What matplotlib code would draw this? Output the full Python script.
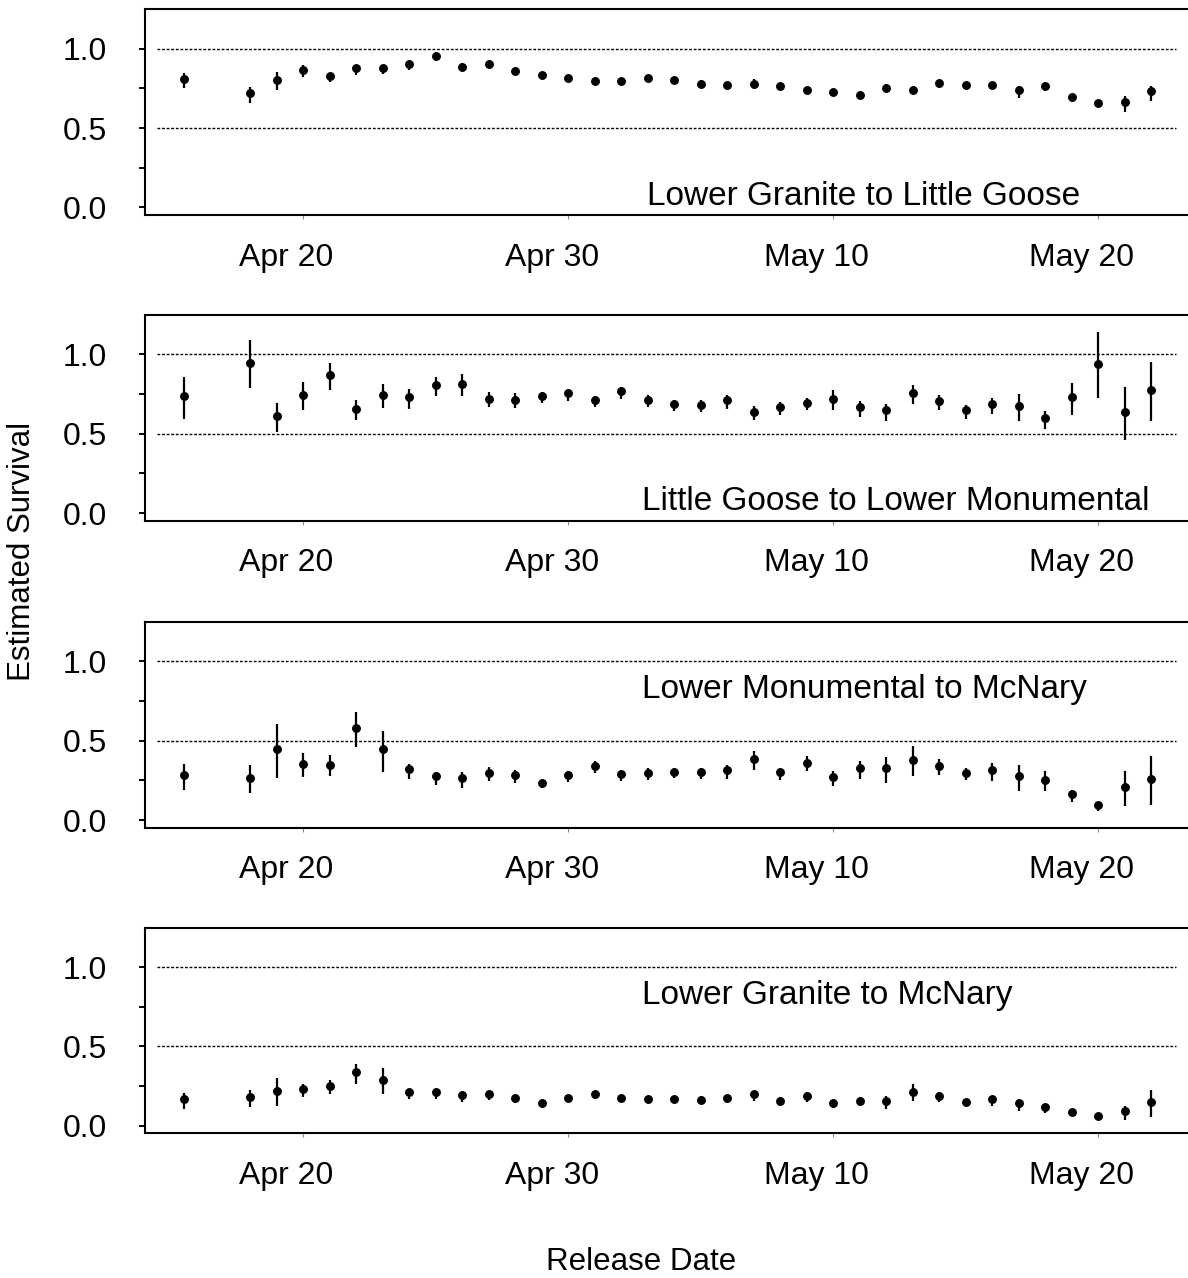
import numpy as np
import pandas as pd
import matplotlib
matplotlib.use('Agg')
import matplotlib.pyplot as plt
import matplotlib.dates as mdates
import matplotlib.transforms as mtrans

plt.rcParams['font.family'] = ['Liberation Sans', 'DejaVu Sans']

# release dates (first group is a pooled mid-day release)
release = pd.DatetimeIndex([pd.Timestamp('2008-04-15 12:00')]).append(
    pd.date_range('2008-04-18', '2008-05-22'))

reaches = ['Lower Granite to Little Goose',
           'Little Goose to Lower Monumental',
           'Lower Monumental to McNary',
           'Lower Granite to McNary']

est1 = [0.809, 0.723, 0.804, 0.869, 0.829, 0.877, 0.881, 0.902, 0.954, 0.888, 0.902, 0.859,
        0.836, 0.813, 0.798, 0.796, 0.817, 0.802, 0.781, 0.771, 0.781, 0.767, 0.740, 0.729,
        0.709, 0.754, 0.742, 0.786, 0.773, 0.771, 0.738, 0.767, 0.696, 0.659, 0.663, 0.731]
lo1 = [0.750, 0.660, 0.742, 0.823, 0.790, 0.835, 0.840, 0.865, 0.920, 0.860, 0.880, 0.840,
       0.820, 0.800, 0.780, 0.780, 0.800, 0.785, 0.765, 0.740, 0.745, 0.750, 0.725, 0.715,
       0.690, 0.735, 0.730, 0.752, 0.755, 0.755, 0.690, 0.735, 0.663, 0.630, 0.600, 0.673]
hi1 = [0.850, 0.760, 0.856, 0.898, 0.850, 0.900, 0.900, 0.920, 0.980, 0.910, 0.920, 0.880,
       0.850, 0.830, 0.815, 0.810, 0.835, 0.820, 0.800, 0.790, 0.810, 0.785, 0.755, 0.745,
       0.725, 0.775, 0.760, 0.806, 0.790, 0.790, 0.765, 0.790, 0.715, 0.680, 0.704, 0.767]

est2 = [0.736, 0.948, 0.610, 0.746, 0.868, 0.658, 0.746, 0.729, 0.809, 0.814, 0.721, 0.715,
        0.738, 0.755, 0.710, 0.767, 0.715, 0.685, 0.683, 0.710, 0.637, 0.669, 0.694, 0.721,
        0.666, 0.647, 0.757, 0.704, 0.650, 0.685, 0.677, 0.597, 0.729, 0.940, 0.637, 0.778]
lo2 = [0.595, 0.789, 0.513, 0.647, 0.776, 0.589, 0.660, 0.656, 0.738, 0.738, 0.666, 0.660,
       0.694, 0.707, 0.669, 0.720, 0.669, 0.641, 0.639, 0.656, 0.584, 0.620, 0.647, 0.652,
       0.606, 0.578, 0.685, 0.647, 0.595, 0.622, 0.578, 0.530, 0.620, 0.723, 0.462, 0.578]
hi2 = [0.858, 1.093, 0.692, 0.828, 0.946, 0.710, 0.816, 0.782, 0.858, 0.874, 0.765, 0.757,
       0.761, 0.782, 0.736, 0.795, 0.746, 0.715, 0.715, 0.746, 0.672, 0.700, 0.723, 0.778,
       0.704, 0.690, 0.805, 0.746, 0.679, 0.726, 0.750, 0.645, 0.820, 1.140, 0.795, 0.955]

est3 = [0.283, 0.268, 0.446, 0.356, 0.350, 0.579, 0.446, 0.321, 0.277, 0.266, 0.299, 0.283,
        0.234, 0.283, 0.343, 0.288, 0.299, 0.301, 0.303, 0.313, 0.382, 0.303, 0.362, 0.272,
        0.328, 0.326, 0.380, 0.343, 0.299, 0.313, 0.278, 0.255, 0.163, 0.094, 0.209, 0.257]
lo3 = [0.189, 0.172, 0.266, 0.272, 0.277, 0.461, 0.304, 0.260, 0.224, 0.203, 0.247, 0.233,
       0.203, 0.241, 0.294, 0.245, 0.250, 0.262, 0.258, 0.261, 0.313, 0.255, 0.309, 0.213,
       0.261, 0.234, 0.276, 0.282, 0.255, 0.246, 0.184, 0.182, 0.113, 0.056, 0.088, 0.092]
hi3 = [0.356, 0.346, 0.608, 0.421, 0.407, 0.679, 0.562, 0.356, 0.304, 0.305, 0.335, 0.314,
       0.252, 0.308, 0.371, 0.313, 0.329, 0.325, 0.331, 0.345, 0.434, 0.330, 0.401, 0.309,
       0.372, 0.397, 0.466, 0.387, 0.330, 0.359, 0.349, 0.309, 0.192, 0.115, 0.309, 0.403]

est4 = [0.168, 0.181, 0.216, 0.231, 0.252, 0.336, 0.290, 0.210, 0.214, 0.191, 0.197, 0.172,
        0.145, 0.172, 0.197, 0.176, 0.170, 0.168, 0.164, 0.172, 0.197, 0.158, 0.189, 0.143,
        0.158, 0.158, 0.214, 0.189, 0.149, 0.168, 0.141, 0.118, 0.088, 0.059, 0.090, 0.149]
lo4 = [0.107, 0.118, 0.122, 0.178, 0.200, 0.263, 0.200, 0.170, 0.170, 0.147, 0.160, 0.143,
       0.125, 0.150, 0.168, 0.155, 0.150, 0.150, 0.145, 0.143, 0.153, 0.126, 0.151, 0.112,
       0.122, 0.107, 0.153, 0.149, 0.130, 0.126, 0.090, 0.078, 0.059, 0.038, 0.038, 0.052]
hi4 = [0.206, 0.227, 0.298, 0.265, 0.290, 0.391, 0.365, 0.227, 0.238, 0.210, 0.216, 0.189,
       0.165, 0.190, 0.216, 0.195, 0.190, 0.185, 0.185, 0.191, 0.216, 0.178, 0.212, 0.164,
       0.181, 0.189, 0.265, 0.214, 0.170, 0.189, 0.170, 0.139, 0.107, 0.076, 0.126, 0.227]

ests = [est1, est2, est3, est4]
los = [lo1, lo2, lo3, lo4]
his = [hi1, hi2, hi3, hi4]

tick_dates = pd.to_datetime(['2008-04-20', '2008-04-30', '2008-05-10', '2008-05-20'])
tick_labels = ['Apr 20', 'Apr 30', 'May 10', 'May 20']

x = mdates.date2num(release.to_pydatetime())
xt = mdates.date2num(tick_dates.to_pydatetime())
x20 = xt[0]

# layout (figure fractions) and label placement
bottoms = [0.8318, 0.5926, 0.3524, 0.1132]
text_x = [12.96, 12.77, 12.77, 12.77]  # days after Apr 20, left edge of panel label
text_y = [0.067, 0.07, 0.82, 0.82]

fig = plt.figure(figsize=(11.88, 12.78), dpi=100)
shift = mtrans.ScaledTranslation(-16.5 / 100, 0, fig.dpi_scale_trans)

for i in range(4):
    ax = fig.add_axes([0.1221, bottoms[i], 0.8796, 0.1608])
    e = np.array(ests[i])
    lo = np.array(los[i])
    hi = np.array(his[i])
    yerr = [np.clip(e - lo, 0, None), np.clip(hi - e, 0, None)]
    ax.errorbar(x, e, yerr=yerr, fmt='o', color='black', ms=5.4,
                elinewidth=1.6, capsize=0, zorder=3)
    ax.hlines([0.5, 1.0], x20 - 5.5, x20 + 32.93, colors='black',
              linestyles=(0, (2.0, 1.3)), lw=1.0)
    ax.text(x20 + text_x[i], text_y[i], reaches[i], ha='left', va='center', fontsize=24)

    ax.set_xlim(x20 - 5.96, x20 + 33.46)
    ax.set_ylim(-0.048, 1.248)
    ax.set_yticks([0, 0.25, 0.5, 0.75, 1.0])
    ax.set_yticklabels(['0.0', '', '0.5', '', '1.0'])
    ax.set_xticks(xt)
    ax.set_xticklabels(tick_labels)
    ax.tick_params(axis='y', length=4.5, width=1.4, pad=23, labelsize=23)
    ax.tick_params(axis='x', length=3, width=0.8, color='0.55', pad=17, labelsize=23)
    for lab in ax.get_xticklabels():
        lab.set_transform(lab.get_transform() + shift)
    ax.spines['right'].set_visible(False)
    for s in ['left', 'top', 'bottom']:
        ax.spines[s].set_linewidth(1.5)

fig.text(22 / 1188, 1 - 551 / 1278, 'Estimated Survival', rotation=90,
         ha='center', va='center', fontsize=22.5)
fig.text(641 / 1188, 1 - 1262 / 1278, 'Release Date', ha='center', va='center', fontsize=22.5)

fig.savefig('out.png', dpi=100)
